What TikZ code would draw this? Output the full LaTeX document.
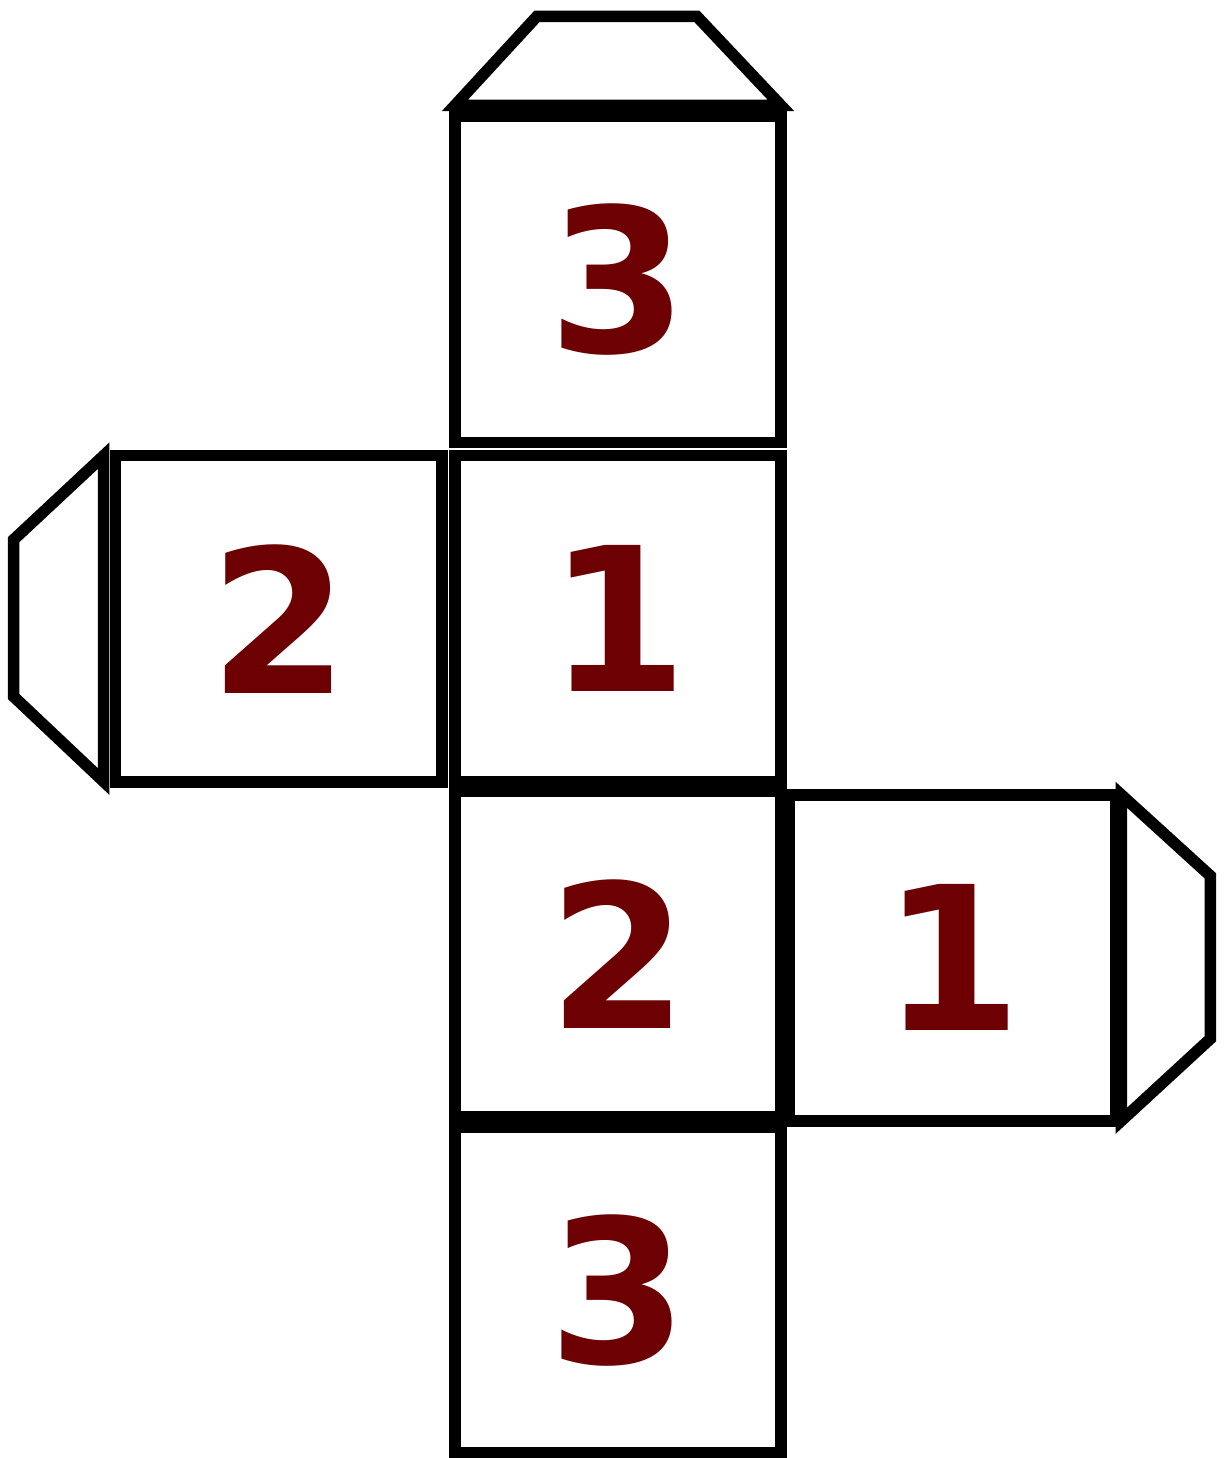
\documentclass[tikz,border=0pt]{standalone}
\usepackage{fontspec}
\usetikzlibrary{positioning}
\newfontfamily\dicefont{DejaVu Sans}
\definecolor{dicered}{RGB}{108,0,2}
\tikzset{
  face/.style={
    rectangle, draw=black, line width=0.115cm,
    minimum size=3.26cm, inner sep=0pt, outer sep=0pt,
    text=dicered, font=\dicefont\bfseries\fontsize{57pt}{57pt}\selectfont
  },
  flapline/.style={draw=black, line width=0.115cm}
}

\begin{document}
\begin{tikzpicture}[x=0.01cm, y=-0.01cm]
    \useasboundingbox (0,0) rectangle (1225,1458);
    % faces of the net
    \node[face] (top) at (618,279.5) {3};
    \node[face, below=0.13cm of top] (one) {1};
    \node[face, below=0.09cm of one] (two) {2};
    \node[face, below=0.10cm of two] (bottom) {3};
    \node[face, left=0.13cm of one] (left) {2};
    \node[face, right=0.08cm of two, yshift=-0.04cm] (right) {1};
    % glue flaps
    \draw[flapline] ([yshift=0.11cm]top.north west) -- ++(82,-89) -- ++(160,0) -- ++(84,89) -- cycle;
    \draw[flapline] ([xshift=-0.12cm]left.north west) -- ++(-90,84) -- ++(0,157) -- ++(90,85) -- cycle;
    \draw[flapline] ([xshift=0.06cm]right.north east) -- ++(89,81) -- ++(0,163) -- ++(-89,82) -- cycle;
  \end{tikzpicture}
\end{document}
